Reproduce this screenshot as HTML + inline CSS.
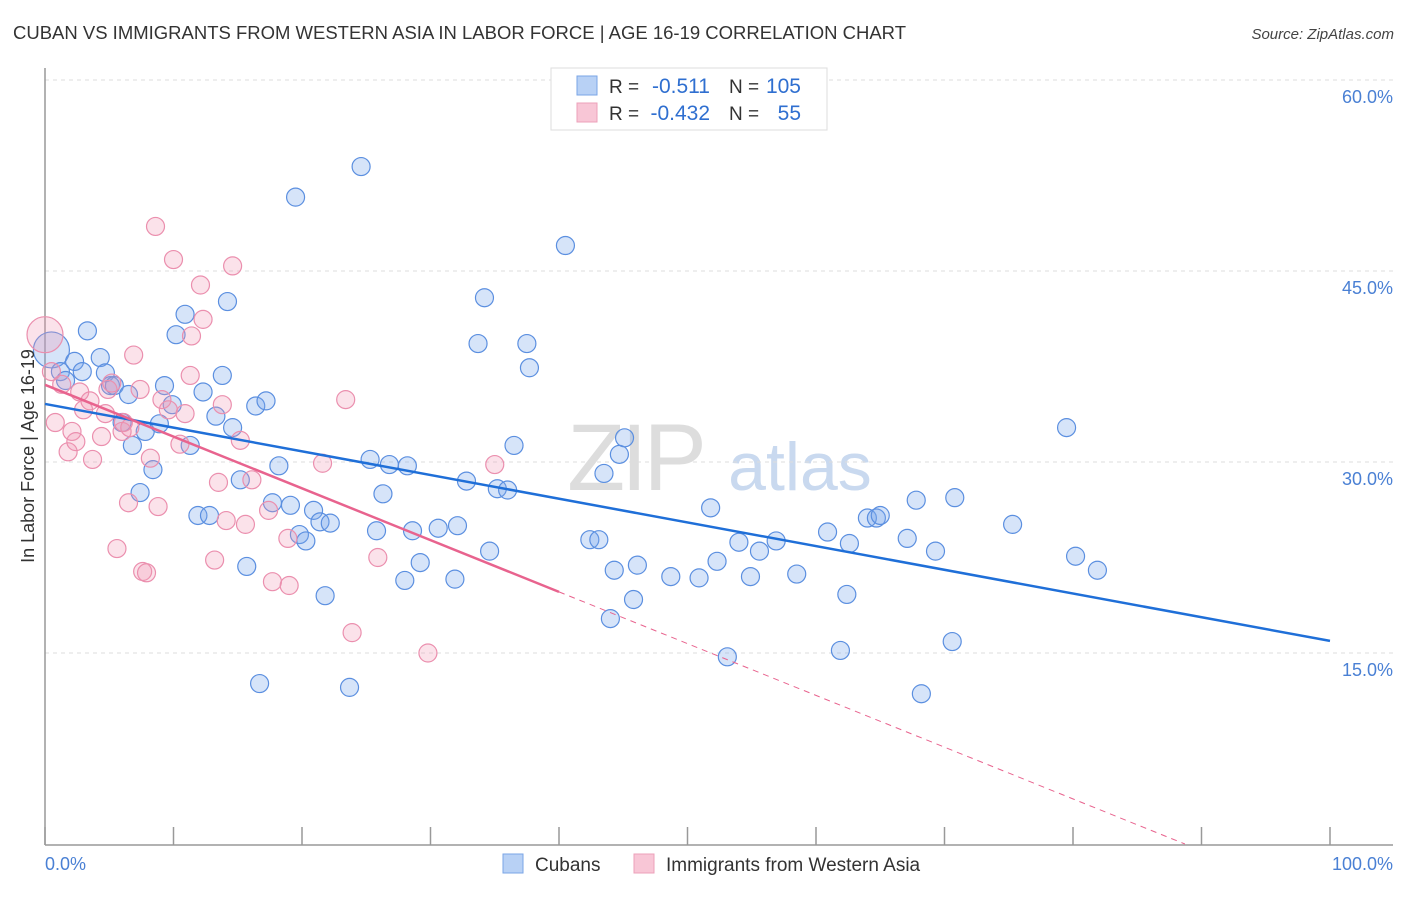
<!DOCTYPE html>
<html><head><meta charset="utf-8"><style>
body{margin:0;background:#fff;font-family:"Liberation Sans",sans-serif}
svg text{font-family:"Liberation Sans",sans-serif}
</style></head><body>
<svg id="c" width="1406" height="892" xmlns="http://www.w3.org/2000/svg">
<text x="13" y="39" font-size="18" fill="#333" textLength="893" lengthAdjust="spacingAndGlyphs">CUBAN VS IMMIGRANTS FROM WESTERN ASIA IN LABOR FORCE | AGE 16-19 CORRELATION CHART</text>
<text x="1394" y="39" font-size="15" fill="#444" text-anchor="end" font-style="italic">Source: ZipAtlas.com</text>
<g>
<text x="635" y="490" font-size="95" fill="#ddd" font-family="Liberation Serif" text-anchor="middle" letter-spacing="-4">ZIP</text>
<text x="800" y="490" font-size="68" fill="#c9d9ef" text-anchor="middle">atlas</text>
</g>
<g id="grid"></g><g id="axes"></g><g id="pts"></g><g id="trend"></g>
<g>
<rect x="551" y="68" width="276" height="62" fill="#fff" stroke="#ddd"/>
<rect x="577" y="76" width="20" height="19" fill="#b8d1f5" stroke="#7aa5e6"/>
<rect x="577" y="103" width="20" height="19" fill="#f8c6d6" stroke="#eca0ba"/>
<text x="609" y="93" font-size="19" fill="#333">R =</text>
<text x="710" y="93" font-size="21" fill="#2f6fd0" text-anchor="end">-0.511</text>
<text x="729" y="93" font-size="19" fill="#333">N =</text>
<text x="801" y="93" font-size="21" fill="#2f6fd0" text-anchor="end">105</text>
<text x="609" y="120" font-size="19" fill="#333">R =</text>
<text x="710" y="120" font-size="21" fill="#2f6fd0" text-anchor="end">-0.432</text>
<text x="729" y="120" font-size="19" fill="#333">N =</text>
<text x="801" y="120" font-size="21" fill="#2f6fd0" text-anchor="end">55</text>
</g>
<g>
<rect x="503" y="854" width="20" height="19" fill="#b8d1f5" stroke="#7aa5e6"/>
<text x="535" y="871" font-size="19" fill="#333">Cubans</text>
<rect x="634" y="854" width="20" height="19" fill="#f8c6d6" stroke="#eca0ba"/>
<text x="666" y="871" font-size="19" fill="#333">Immigrants from Western Asia</text>
</g>
<text transform="translate(34,456) rotate(-90)" font-size="18" fill="#333" text-anchor="middle">In Labor Force | Age 16-19</text>
</svg>
<script>
const yTicks=[15,30,45,60];
const yTickLabels=["15.0%","30.0%","45.0%","60.0%"];
const xTicks=[0,10,20,30,40,50,60,70,80,90,100];
const blueX=[0.5,1.2,1.6,2.3,2.9,3.3,4.3,4.7,5.1,5.4,6.0,6.5,6.8,7.4,7.8,8.4,8.9,9.3,9.9,10.2,10.9,11.3,11.9,12.3,12.8,13.3,13.8,14.2,14.6,15.2,15.7,16.4,16.7,17.2,17.7,18.2,19.1,19.5,19.8,20.3,20.9,21.4,21.8,22.2,23.7,24.6,25.3,25.8,26.3,26.8,28.0,28.2,28.6,29.2,30.6,31.9,32.1,32.8,33.7,34.2,34.6,35.2,36.0,36.5,37.5,37.7,40.5,42.4,43.1,43.5,44.0,44.3,44.7,45.1,45.8,46.1,48.7,50.9,51.8,52.3,53.1,54.0,54.9,55.6,56.9,58.5,60.9,61.9,62.4,62.6,64.0,64.7,65.0,67.1,67.8,68.2,69.3,70.6,70.8,75.3,79.5,80.2,81.9];
const blueY=[38.8,37.1,36.4,37.9,37.1,40.3,38.2,37.0,36.0,36.0,33.1,35.3,31.3,27.6,32.4,29.4,33.0,36.0,34.5,40.0,41.6,31.3,25.8,35.5,25.8,33.6,36.8,42.6,32.7,28.6,21.8,34.4,12.6,34.8,26.8,29.7,26.6,50.8,24.3,23.8,26.2,25.3,19.5,25.2,12.3,53.2,30.2,24.6,27.5,29.8,20.7,29.7,24.6,22.1,24.8,20.8,25.0,28.5,39.3,42.9,23.0,27.9,27.8,31.3,39.3,37.4,47.0,23.9,23.9,29.1,17.7,21.5,30.6,31.9,19.2,21.9,21.0,20.9,26.4,22.2,14.7,23.7,21.0,23.0,23.8,21.2,24.5,15.2,19.6,23.6,25.6,25.6,25.8,24.0,27.0,11.8,23.0,15.9,27.2,25.1,32.7,22.6,21.5];
const pinkX=[0,0.5,0.8,1.3,1.8,2.1,2.4,2.7,3.0,3.5,3.7,4.4,4.7,4.9,5.2,5.6,6.0,6.1,6.5,6.6,6.9,7.4,7.6,7.9,8.2,8.6,8.8,9.1,9.6,10.0,10.5,10.9,11.3,11.4,12.1,12.3,13.2,13.5,13.8,14.1,14.6,15.2,15.6,16.1,17.4,17.7,18.9,19.0,21.6,23.4,23.9,25.9,29.8,35.0];
const pinkY=[40.0,37.1,33.1,36.1,30.8,32.4,31.6,35.5,34.1,34.8,30.2,32.0,33.8,35.7,36.2,23.2,32.4,33.1,26.8,32.7,38.4,35.7,21.4,21.3,30.3,48.5,26.5,34.9,34.1,45.9,31.4,33.8,36.8,39.9,43.9,41.2,22.3,28.4,34.5,25.4,45.4,31.7,25.1,28.6,26.2,20.6,24.0,20.3,29.9,34.9,16.6,22.5,15.0,29.8];
const blueTrend=[34.56,15.95];
const pinkTrend=[36.06,19.8];
const pinkSolidEnd=40;
const NS="http://www.w3.org/2000/svg";
const X=v=>45+v*12.85, Y=v=>844-v*764/60;
function mk(tag,attrs,parent){const e=document.createElementNS(NS,tag);for(const k in attrs)e.setAttribute(k,attrs[k]);document.getElementById(parent).appendChild(e);return e;}
yTicks.forEach((t,i)=>{
 const l=mk('line',{x1:45,x2:1393,y1:Y(t),y2:Y(t),stroke:'#ddd','stroke-dasharray':'4,4'},'grid');
 
 
 const tx=mk('text',{x:1393,y:Y(t)+23,'font-size':18,fill:'#4a80d4','text-anchor':'end'},'grid');
 tx.textContent=yTickLabels[i];
 
 
});
const ya=mk('line',{x1:45,x2:45,y1:68,y2:845,stroke:'#999','stroke-width':1.5},'axes');


const xa=mk('line',{x1:45,x2:1393,y1:845,y2:845,stroke:'#999','stroke-width':1.5},'axes');


xTicks.forEach(t=>{
 const k=mk('line',{x1:X(t),x2:X(t),y1:827,y2:845,stroke:'#999','stroke-width':1.5},'axes');
 
 
});
const xl0=mk('text',{x:45,y:870,'font-size':18,fill:'#4a80d4'},'axes');xl0.textContent='0.0%';


const xl1=mk('text',{x:1393,y:870,'font-size':18,fill:'#4a80d4','text-anchor':'end'},'axes');xl1.textContent='100.0%';


blueX.forEach((v,i)=>{
 const c=mk('circle',{cx:X(v),cy:Y(blueY[i]),r:i==0?18:9,fill:'rgba(120,165,235,0.3)',stroke:'#5b8fe0','stroke-width':1.2},'pts');
 
 
});
pinkX.forEach((v,i)=>{
 const c=mk('circle',{cx:X(v),cy:Y(pinkY[i]),r:i==0?18:9,fill:'rgba(240,150,180,0.28)',stroke:'#eb8fae','stroke-width':1.2},'pts');
 
 
});
const bt=mk('line',{x1:X(0),y1:Y(blueTrend[0]),x2:X(100),y2:Y(blueTrend[1]),stroke:'#1f6fd8','stroke-width':2.5},'trend');


const ps=(pinkTrend[1]-pinkTrend[0])/pinkSolidEnd;
const pz=-pinkTrend[0]/ps;
const pt=mk('line',{x1:X(0),y1:Y(pinkTrend[0]),x2:X(pinkSolidEnd),y2:Y(pinkTrend[1]),stroke:'#e8638e','stroke-width':2.5},'trend');


const pd=mk('line',{x1:X(pinkSolidEnd),y1:Y(pinkTrend[1]),x2:X(pz),y2:Y(0),stroke:'#e8638e','stroke-width':1,'stroke-dasharray':'6,5'},'trend');


</script>
</body></html>
